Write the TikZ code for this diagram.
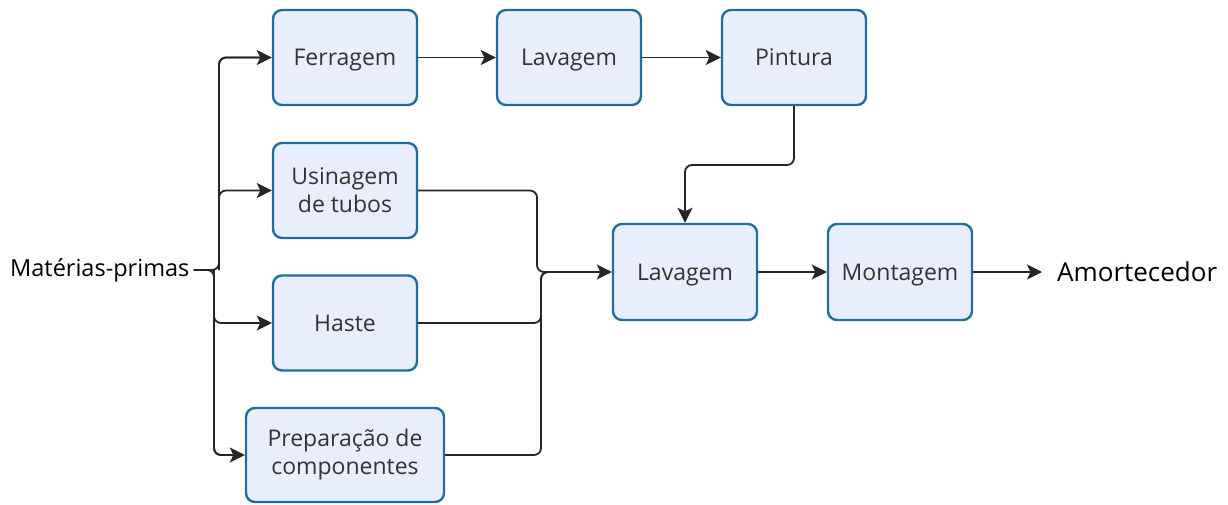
\documentclass[tikz,border=0pt]{standalone}
\usepackage{fontspec}
\setmainfont{Open Sans}
\usetikzlibrary{arrows.meta}
\definecolor{boxfill}{HTML}{E9EEFC}
\definecolor{boxdraw}{HTML}{1F6E9E}
\definecolor{txt}{HTML}{333333}
\tikzset{
  proc/.style={draw=boxdraw, fill=boxfill, line width=2.4pt, rounded corners=9pt,
    minimum width=144pt, minimum height=95pt, align=center, text=txt,
    font=\fontsize{23}{28}\selectfont, inner sep=2pt},
  one/.style={text height=17pt, text depth=1pt},
  conn/.style={line width=1.8pt, draw=black!85, rounded corners=7pt},
  arr/.style={conn, -{Stealth[length=15pt,width=15pt,inset=3.5pt]}},
}
\begin{document}
\begin{tikzpicture}[x=1pt,y=-1pt]
\useasboundingbox (0,0) rectangle (1228,504);
\node[proc, one] (ferr) at (345,57.5) {Ferragem};
\node[proc, one] (lav1) at (569,57.5) {Lavagem};
\node[proc, one] (pint) at (794,57.5) {Pintura};
\node[proc] (usin) at (345,190.5) {Usinagem\\de tubos};
\node[proc, one] (haste) at (345,323) {Haste};
\node[proc, minimum width=198pt, minimum height=94pt] (prep) at (345,455) {Preparação de\\componentes};
\node[proc, one, minimum height=96pt] (lav2) at (685,272) {Lavagem};
\node[proc, one, minimum height=96pt] (mont) at (900,272) {Montagem};
\node[anchor=west, inner sep=0pt, font=\fontsize{23.5}{28}\selectfont] (mat) at (10,270) {Matérias-primas};
\node[anchor=west, inner sep=0pt, font=\fontsize{26}{30}\selectfont] (amort) at (1057,272) {Amortecedor};
\coordinate (jt) at (219,270);
\coordinate (jb) at (214,270);
\coordinate (bu) at (219,225);
\coordinate (bh) at (214,300);
\coordinate (mu) at (537,272);
\coordinate (ml) at (541,272);
\coordinate (me) at (550,272);
\coordinate (pd) at (794,165);
\coordinate (ae) at (1042,272);
% brace
\draw[conn] ([xshift=4pt]mat.east) -- (jt) |- ([xshift=-4pt]ferr.west);
\draw[arr] (jt) |- (ferr.west);
\draw[arr] (bu) |- (usin.west);
\draw[conn] ([xshift=4pt]mat.east) -- (jb) |- ([xshift=-4pt]prep.west);
\draw[arr] (jb) |- (prep.west);
\draw[arr] (bh) |- (haste.west);
% merge
\draw[conn] (usin.east) -| (mu) -- (me);
\draw[conn] (haste.east) -| (ml) -- (me);
\draw[conn] (prep.east) -| (ml) -- (me);
\draw[arr] (me) -- (lav2.west);
% top row
\draw[arr] (ferr) -- (lav1);
\draw[arr] (lav1) -- (pint);
\draw[arr] (pint.south) -- (pd) -| (lav2.north);
\draw[arr] (lav2) -- (mont);
\draw[arr] (mont.east) -- (ae);
\end{tikzpicture}
\end{document}
